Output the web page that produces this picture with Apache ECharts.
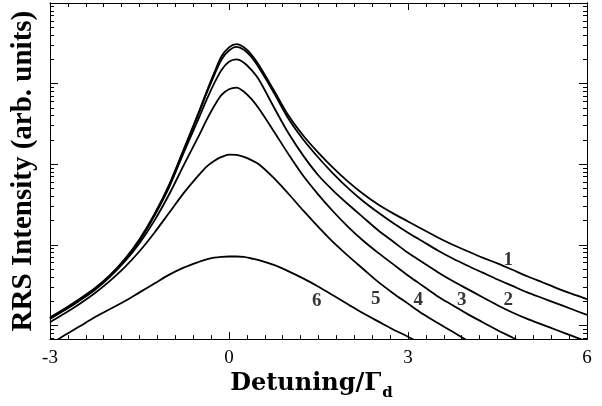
<!DOCTYPE html>
<html>
<head>
<meta charset="utf-8">
<script src="https://cdn.jsdelivr.net/npm/echarts@6/dist/echarts.min.js"></script>
<style>
html, body { margin: 0; padding: 0; background: #fff; }
#chart { width: 602px; height: 406px; }
</style>
</head>
<body>
<div id="chart"></div>
<script>
// detuning / Gamma_d sample points (denser round the peak)
var detuning = [-3, -2.75, -2.5, -2.25, -2, -1.75, -1.5, -1.25, -1, -0.75, -0.5,
    -0.375, -0.25, -0.125, 0, 0.125, 0.25, 0.375, 0.5,
    0.75, 1, 1.25, 1.5, 1.75, 2, 2.25, 2.5, 2.75, 3, 3.25, 3.5, 3.75, 4,
    4.25, 4.5, 4.75, 5, 5.25, 5.5, 5.75, 6];

// log10 of the RRS intensity (arb. units)
var curve1 = [0.10, 0.21, 0.33, 0.46, 0.62, 0.82, 1.07, 1.38, 1.75, 2.20, 2.66,
    2.90, 3.13, 3.34, 3.45, 3.49, 3.45, 3.36, 3.23,
    2.92, 2.60, 2.35, 2.14, 1.95, 1.78, 1.63, 1.50, 1.39, 1.29, 1.19, 1.09, 1.00, 0.92,
    0.84, 0.77, 0.69, 0.61, 0.535, 0.46, 0.39, 0.325];
var curve2 = [0.09, 0.20, 0.32, 0.45, 0.61, 0.81, 1.06, 1.37, 1.74, 2.19, 2.64,
    2.88, 3.10, 3.30, 3.41, 3.455, 3.42, 3.33, 3.20,
    2.89, 2.56, 2.30, 2.08, 1.88, 1.70, 1.54, 1.40, 1.27, 1.15, 1.04, 0.93, 0.83, 0.74,
    0.655, 0.57, 0.49, 0.41, 0.34, 0.27, 0.20, 0.13];
var curve3 = [0.09, 0.20, 0.32, 0.45, 0.61, 0.81, 1.05, 1.36, 1.72, 2.16, 2.58,
    2.80, 3.00, 3.17, 3.27, 3.30, 3.26, 3.17, 3.05,
    2.71, 2.38, 2.10, 1.86, 1.67, 1.50, 1.34, 1.18, 1.04, 0.90, 0.78, 0.66, 0.55, 0.45,
    0.35, 0.25, 0.16, 0.08, 0.01, -0.06, -0.13, -0.20];
var curve4 = [0.08, 0.19, 0.31, 0.44, 0.60, 0.79, 1.02, 1.30, 1.63, 2.00, 2.36,
    2.55, 2.72, 2.86, 2.93, 2.95, 2.90, 2.81, 2.69,
    2.41, 2.12, 1.85, 1.62, 1.41, 1.22, 1.05, 0.90, 0.76, 0.62, 0.49, 0.36, 0.25, 0.14,
    0.04, -0.06, -0.15, -0.25, null, null, null, null];
var curve5 = [0.04, 0.15, 0.27, 0.40, 0.55, 0.72, 0.92, 1.15, 1.40, 1.65, 1.87,
    1.97, 2.04, 2.09, 2.12, 2.115, 2.09, 2.05, 2.00,
    1.83, 1.63, 1.42, 1.22, 1.03, 0.86, 0.70, 0.54, 0.40, 0.27, 0.14, 0.03, -0.08, -0.19,
    null, null, null, null, null, null, null, null];
var curve6 = [-0.24, -0.12, -0.01, 0.10, 0.20, 0.30, 0.41, 0.52, 0.63, 0.72, 0.79,
    0.82, 0.84, 0.85, 0.855, 0.855, 0.85, 0.83, 0.81,
    0.75, 0.67, 0.58, 0.48, 0.37, 0.26, 0.15, 0.05, -0.05, -0.14, -0.24, null, null, null,
    null, null, null, null, null, null, null, null];

// curve numbers written inside the plot
var labelText = ['1', '2', '3', '4', '5', '6'];
var labelX = [4.68, 4.68, 3.90, 3.17, 2.46, 1.47];
var labelY = [0.81, 0.32, 0.32, 0.32, 0.33, 0.30];

// y axis decades (log10) and minor multiples
var decades = [-1, 0, 1, 2, 3, 4];
var minorMult = [2, 3, 4, 5, 6, 7, 8, 9];

var yMin = -0.17, yMax = 4;
var majorTicks = decades.filter(function (d) { return d >= yMin && d <= yMax; });
var minorTicks = [];
decades.forEach(function (d) {
    minorMult.forEach(function (m) {
        var v = d + Math.log10(m);
        if (v > yMin && v < yMax) minorTicks.push(v);
    });
});

var chart = echarts.init(document.getElementById('chart'));

var curves = [curve1, curve2, curve3, curve4, curve5, curve6];
var series = curves.map(function (c, i) {
    return {
        name: labelText[i],
        type: 'line',
        data: detuning.map(function (x, j) { return [x, c[j]]; }),
        symbol: 'none',
        smooth: 0.3,
        connectNulls: false,
        clip: true,
        lineStyle: { color: '#000', width: 1.8 }
    };
});

series.push({
    type: 'scatter',
    symbolSize: 0,
    data: labelText.map(function (t, i) { return [labelX[i], labelY[i], t]; }),
    label: {
        show: true,
        position: 'inside',
        formatter: function (p) { return p.data[2]; },
        fontFamily: 'Liberation Serif',
        fontWeight: 'bold',
        fontSize: 19,
        color: '#000'
    },
    silent: true
});

function axisLine() {
    return { show: true, onZero: false, lineStyle: { color: '#000', width: 1 } };
}

function yAxisDef(pos, ticks, len) {
    return {
        type: 'value',
        position: pos,
        min: yMin,
        max: yMax,
        axisLine: axisLine(),
        axisTick: { show: true, inside: true, length: len, customValues: ticks, lineStyle: { color: '#000' } },
        axisLabel: { show: false },
        splitLine: { show: false }
    };
}

function xAxisDef(pos, labels) {
    return {
        type: 'value',
        position: pos,
        min: -3,
        max: 6,
        interval: 3,
        axisLine: axisLine(),
        axisTick: { show: true, inside: true, length: 7, lineStyle: { color: '#000' } },
        minorTick: { show: true, splitNumber: 10, length: 4, lineStyle: { color: '#000' } },
        axisLabel: {
            show: labels,
            margin: 9,
            fontFamily: 'Liberation Serif',
            fontSize: 19,
            color: '#000',
            showMinLabel: true,
            showMaxLabel: true
        },
        splitLine: { show: false },
        minorSplitLine: { show: false }
    };
}

var yLeft = yAxisDef('left', majorTicks, 8);
yLeft.name = 'RRS Intensity (arb. units)';
yLeft.nameLocation = 'middle';
yLeft.nameRotate = 90;
yLeft.nameGap = 12;
yLeft.nameTextStyle = { fontFamily: 'Liberation Serif', fontWeight: 'bold', fontSize: 29, color: '#000' };

var xBottom = xAxisDef('bottom', true);
xBottom.name = '{a|Detuning/Γ}{b|d}';
xBottom.nameLocation = 'middle';
xBottom.nameGap = 25;
xBottom.nameTextStyle = {
    padding: [0, 14, 0, 0],
    rich: {
        a: { fontFamily: 'DejaVu Serif', fontWeight: 'bold', fontSize: 24, color: '#000', verticalAlign: 'top', lineHeight: 27 },
        b: { fontFamily: 'DejaVu Serif', fontWeight: 'bold', fontSize: 15, color: '#000', verticalAlign: 'bottom', padding: [14, 0, 0, 1] }
    }
};

var option = {
    backgroundColor: '#fff',
    animation: false,
    grid: { left: 50, right: 15, top: 3, bottom: 64, containLabel: false },
    xAxis: [xBottom, xAxisDef('top', false)],
    yAxis: [
        yLeft,
        yAxisDef('left', minorTicks, 4),
        yAxisDef('right', majorTicks, 8),
        yAxisDef('right', minorTicks, 4)
    ],
    series: series
};

chart.setOption(option);
</script>
</body>
</html>
